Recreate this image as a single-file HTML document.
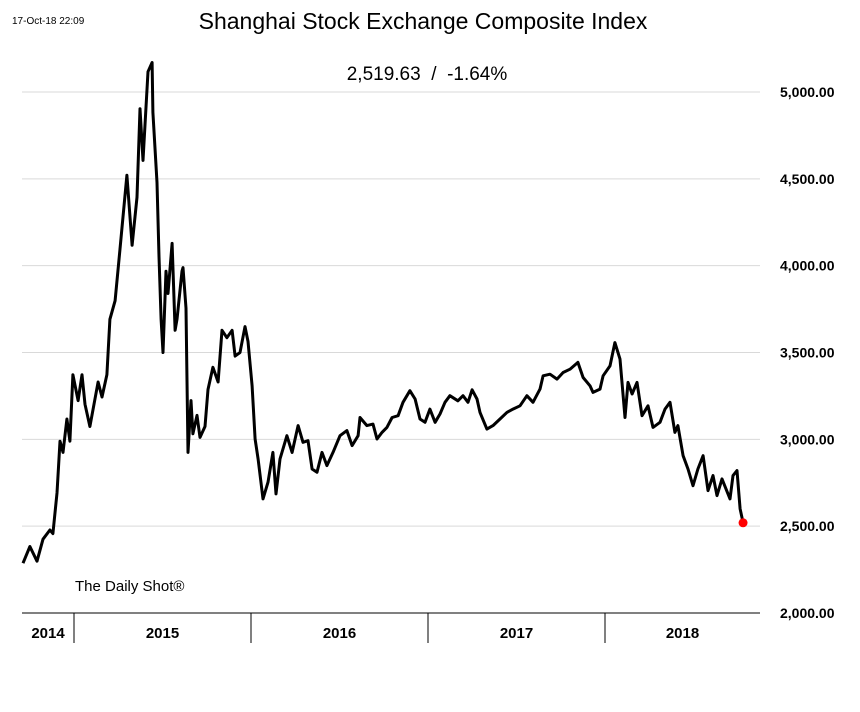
<!DOCTYPE html>
<html><head><meta charset="utf-8"><style>
body{margin:0;background:#fff;width:860px;height:707px;overflow:hidden;font-family:"Liberation Sans",sans-serif}
</style></head><body>
<svg id="chart" width="860" height="707" xmlns="http://www.w3.org/2000/svg">
<text x="12" y="24" font-size="10" font-family="Liberation Sans, sans-serif">17-Oct-18 22:09</text>
<text x="423" y="29" text-anchor="middle" font-size="23" font-family="Liberation Sans, sans-serif">Shanghai Stock Exchange Composite Index</text>
<text x="427" y="80" text-anchor="middle" font-size="19" font-family="Liberation Sans, sans-serif">2,519.63&#160;&#160;/&#160;&#160;-1.64%</text>
<text x="75" y="591" font-size="15" font-family="Liberation Sans, sans-serif">The Daily Shot®</text>
<g id="grid"></g><g id="axis"></g><g id="series"></g>
</svg>
<script>
const yTicks=[2000,2500,3000,3500,4000,4500,5000];
const yearLabels=["2014","2015","2016","2017","2018"];
const yearStarts=[2014,2015,2016,2017,2018,2019];
const dates=[2014.712,2014.751,2014.791,2014.825,2014.864,2014.881,2014.904,2014.921,2014.938,2014.960,2014.977,2014.994,
2015.023,2015.045,2015.062,2015.090,2015.136,2015.158,2015.186,2015.203,2015.232,2015.260,2015.299,2015.328,2015.356,2015.373,2015.390,2015.418,2015.441,2015.446,2015.469,2015.480,2015.492,2015.503,2015.520,2015.531,2015.554,2015.571,2015.582,2015.610,2015.616,2015.633,2015.644,2015.661,2015.672,2015.695,2015.712,2015.740,2015.757,2015.785,2015.814,2015.836,2015.864,2015.893,2015.910,2015.938,2015.966,2015.983,
2016.006,2016.023,2016.040,2016.068,2016.096,2016.124,2016.141,2016.164,2016.203,2016.232,2016.266,2016.294,2016.322,2016.345,2016.373,2016.401,2016.429,2016.463,2016.503,2016.542,2016.571,2016.605,2016.616,2016.655,2016.689,2016.712,2016.740,2016.768,2016.797,2016.831,2016.859,2016.898,2016.927,2016.955,2016.983,
2017.011,2017.040,2017.068,2017.096,2017.124,2017.169,2017.198,2017.226,2017.249,2017.277,2017.294,2017.333,2017.367,2017.407,2017.446,2017.480,2017.520,2017.559,2017.593,2017.633,2017.650,2017.689,2017.729,2017.763,2017.802,2017.847,2017.876,2017.915,2017.932,2017.972,2017.989,
2018.028,2018.056,2018.085,2018.113,2018.130,2018.153,2018.181,2018.209,2018.243,2018.271,2018.311,2018.339,2018.367,2018.395,2018.412,2018.441,2018.469,2018.497,2018.525,2018.554,2018.582,2018.610,2018.633,2018.661,2018.706,2018.723,2018.746,2018.763,2018.780];
const values=[2287,2383,2298,2425,2478,2457,2691,2989,2925,3117,2989,3372,
3223,3372,3202,3074,3330,3244,3372,3691,3798,4096,4521,4117,4394,4904,4606,5117,5170,4883,4479,4053,3691,3500,3968,3840,4128,3628,3691,3968,3989,3755,2925,3223,3032,3138,3011,3074,3287,3415,3330,3628,3585,3628,3479,3500,3649,3564,
3308,3002,2887,2657,2753,2925,2686,2887,3021,2925,3079,2983,2992,2829,2810,2925,2849,2925,3021,3050,2964,3021,3126,3079,3088,3002,3040,3069,3126,3136,3213,3280,3232,3117,3098,
3174,3098,3146,3213,3251,3222,3251,3213,3285,3232,3155,3059,3079,3117,3155,3174,3193,3251,3213,3289,3366,3375,3347,3385,3404,3443,3356,3308,3270,3289,3366,
3423,3557,3462,3126,3328,3261,3328,3136,3193,3069,3098,3174,3213,3040,3079,2906,2829,2733,2829,2906,2705,2791,2676,2772,2657,2791,2820,2600,2519.63];
const NS="http://www.w3.org/2000/svg";
const X0=22,X1=760;
function xs(t){return 74+(t-2015)*177;}
function ys(v){return 613-(v-2000)*(521/3000);}
function mk(tag,attrs,parent){const e=document.createElementNS(NS,tag);for(const k in attrs)e.setAttribute(k,attrs[k]);parent.appendChild(e);return e;}
const grid=document.getElementById('grid'),axis=document.getElementById('axis'),series=document.getElementById('series');
yTicks.forEach(v=>{
  if(v>2000){const l=mk('line',{x1:X0,x2:X1,y1:ys(v),y2:ys(v),stroke:'#d9d9d9','stroke-width':1},grid);
  
  }
  const t=mk('text',{x:780,y:ys(v)+5,'font-size':14,'font-weight':'bold','font-family':'Liberation Sans, sans-serif'},axis);
  t.textContent=v.toLocaleString('en-US',{minimumFractionDigits:2,maximumFractionDigits:2});
  
  
});
const base=mk('line',{x1:X0,x2:X1,y1:ys(2000),y2:ys(2000),stroke:'#000','stroke-width':1},axis);


yearStarts.forEach((y,i)=>{
  const x=xs(y);
  if(x>X0&&x<X1){const s=mk('line',{x1:x,x2:x,y1:613,y2:643,stroke:'#000','stroke-width':1},axis);
  
  }
  if(i<yearLabels.length){
    const a=Math.max(xs(y),X0),b=Math.min(xs(y+1),X1);
    const t=mk('text',{x:(a+b)/2,y:638,'text-anchor':'middle','font-size':15,'font-weight':'bold','font-family':'Liberation Sans, sans-serif'},axis);
    t.textContent=yearLabels[i];
    
    
  }
});
const d=dates.map((t,i)=>(i?'L':'M')+xs(t).toFixed(1)+' '+ys(values[i]).toFixed(1)).join(' ');
const p=mk('path',{d:d,fill:'none',stroke:'#000','stroke-width':3,'stroke-linejoin':'round'},series);


const n=dates.length-1;
const c=mk('circle',{cx:xs(dates[n]),cy:ys(values[n]),r:4.5,fill:'#ff0000'},series);


</script>
</body></html>
